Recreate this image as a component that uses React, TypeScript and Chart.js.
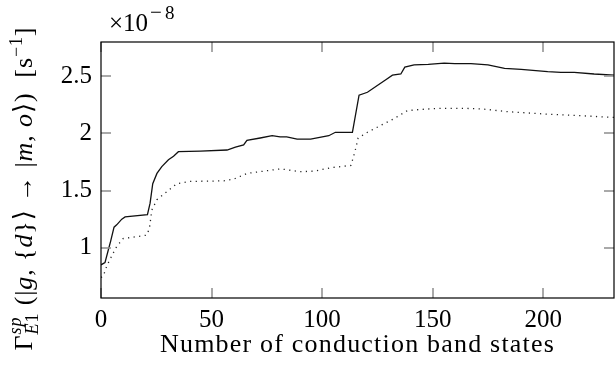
import React, { useEffect, useRef } from "react";
import { Chart, registerables } from "chart.js";

Chart.register(...registerables);

// ---- data ----
const solidX = [0, 1.8, 3.3, 4.4, 5.9, 7.1, 9.4, 10.9, 21, 22.2, 23.4, 25.3, 27.5, 30.5, 32.8, 35, 45, 57, 60.8, 64.5, 66, 72, 77.4, 81, 84, 88.7, 94.8, 103, 106, 113.7, 116.7, 120.5, 124.3, 128.8, 131.8, 135.6, 137.4, 141.6, 148, 155.2, 160, 167.3, 175, 182.5, 190, 202, 208, 214, 223, 232];
const solidY = [0.85, 0.87, 0.98, 1.06, 1.18, 1.2, 1.25, 1.27, 1.29, 1.39, 1.56, 1.65, 1.71, 1.77, 1.8, 1.84, 1.845, 1.855, 1.88, 1.9, 1.94, 1.96, 1.98, 1.97, 1.97, 1.95, 1.95, 1.98, 2.01, 2.01, 2.335, 2.36, 2.41, 2.47, 2.51, 2.52, 2.58, 2.6, 2.605, 2.615, 2.61, 2.61, 2.6, 2.57, 2.56, 2.54, 2.535, 2.535, 2.52, 2.51];
const dottedX = [0, 1, 2.6, 4.9, 7.1, 10, 13.9, 20.7, 21.9, 23, 25.3, 29.8, 34.3, 40.4, 55.5, 60, 66, 73.6, 81.2, 90.2, 96.3, 103.9, 113, 114.7, 116.3, 120.5, 126.5, 132.6, 138.6, 144.7, 153.7, 163, 172, 184, 200.6, 217, 232];
const dottedY = [0.74, 0.75, 0.84, 0.93, 1.01, 1.08, 1.09, 1.11, 1.17, 1.33, 1.42, 1.49, 1.56, 1.58, 1.585, 1.6, 1.65, 1.67, 1.69, 1.665, 1.67, 1.7, 1.72, 1.83, 1.96, 2.01, 2.07, 2.13, 2.2, 2.21, 2.22, 2.22, 2.215, 2.19, 2.17, 2.155, 2.14];

const xTicks = [0, 50, 100, 150, 200];
const yTicks = [1, 1.5, 2, 2.5];
const yTickLabels = ["1", "1.5", "2", "2.5"];
const xTitle = "Number of conduction band states";

const FONT = "'Liberation Serif', 'DejaVu Serif', serif";

type Seg = { t: string; size: number; italic?: boolean; dy?: number; stack?: { sup: Seg[]; sub: Seg[] } };

function segWidth(ctx: CanvasRenderingContext2D, segs: Seg[]): number {
  let w = 0;
  for (const s of segs) {
    if (s.stack) {
      w += Math.max(segWidth(ctx, s.stack.sup), segWidth(ctx, s.stack.sub));
    } else {
      ctx.font = `${s.italic ? "italic " : ""}${s.size}px ${FONT}`;
      w += ctx.measureText(s.t).width;
    }
  }
  return w;
}

function drawSegs(ctx: CanvasRenderingContext2D, segs: Seg[], x: number, y: number): number {
  for (const s of segs) {
    if (s.stack) {
      const w1 = drawSegs(ctx, s.stack.sup, x, y);
      const w2 = drawSegs(ctx, s.stack.sub, x, y);
      x = Math.max(w1, w2);
    } else {
      ctx.font = `${s.italic ? "italic " : ""}${s.size}px ${FONT}`;
      ctx.fillText(s.t, x, y + (s.dy || 0));
      x += ctx.measureText(s.t).width;
    }
  }
  return x;
}

const B = 26;
const S = 18;
const yTitleSegs: Seg[] = [
  { t: "Γ", size: B },
  {
    t: "",
    size: S,
    stack: {
      sup: [{ t: "sp", size: S, italic: true, dy: -11 }],
      sub: [
        { t: "E", size: S, italic: true, dy: 6 },
        { t: "1", size: S, dy: 6 },
      ],
    },
  },
  { t: " (|", size: B },
  { t: "g", size: B, italic: true },
  { t: ", {", size: B },
  { t: "d", size: B, italic: true },
  { t: "}⟩ → |", size: B },
  { t: "m", size: B, italic: true },
  { t: ", ", size: B },
  { t: "o", size: B, italic: true },
  { t: "⟩)  [s", size: B },
  { t: "−1", size: S, dy: -10 },
  { t: "]", size: B },
];

const framePlugin = {
  id: "framePlugin",
  afterDraw(chart: any) {
    const ctx: CanvasRenderingContext2D = chart.ctx;
    const { left, right, top, bottom } = chart.chartArea;
    const xs = chart.scales.x;
    const ys = chart.scales.y;
    ctx.save();
    ctx.setLineDash([]);
    ctx.globalAlpha = 1;
    // inward ticks (mirrored), drawn as thin filled rects
    ctx.fillStyle = "#959595";
    const TL = 10;
    for (const v of xTicks) {
      const px = Math.round(xs.getPixelForValue(v));
      ctx.fillRect(px - 0.8, bottom - TL, 1.6, TL);
      ctx.fillRect(px - 0.8, top, 1.6, TL);
    }
    for (const v of yTicks) {
      const py = Math.round(ys.getPixelForValue(v));
      ctx.fillRect(left, py - 0.8, TL, 1.6);
      ctx.fillRect(right - TL, py - 0.8, TL, 1.6);
    }
    // frame
    ctx.strokeStyle = "#000";
    ctx.lineWidth = 1.2;
    ctx.strokeRect(left, top, right - left, bottom - top);

    ctx.fillStyle = "#000";
    ctx.textAlign = "left";
    ctx.textBaseline = "alphabetic";
    // multiplier
    ctx.font = `25px ${FONT}`;
    ctx.fillText("×10", 109, 31);
    const w = ctx.measureText("×10").width;
    ctx.font = `21px ${FONT}`;
    ctx.fillText("−", 109 + w + 2, 19);
    const wm = ctx.measureText("−").width;
    ctx.font = `19px ${FONT}`;
    ctx.fillText("8", 109 + w + 2 + wm + 3, 19);

    // x title
    ctx.font = `26px ${FONT}`;
    (ctx as any).letterSpacing = "1.2px";
    ctx.textAlign = "center";
    ctx.fillText(xTitle, (left + right) / 2, 352);
    (ctx as any).letterSpacing = "0.9px";

    // y title (rotated)
    ctx.textAlign = "left";
    const tw = segWidth(ctx, yTitleSegs) + 27;
    ctx.translate(32, 175);
    ctx.rotate(-Math.PI / 2);
    drawSegs(ctx, yTitleSegs, -tw / 2, 0);
    (ctx as any).letterSpacing = "0px";
    ctx.restore();
  },
};

export default function App() {
  const ref = useRef<HTMLCanvasElement | null>(null);
  useEffect(() => {
    if (!ref.current) return;
    const chart = new Chart(ref.current, {
      type: "line",
      data: {
        datasets: [
          {
            data: solidX.map((x, i) => ({ x, y: solidY[i] })),
            borderColor: "#111",
            borderWidth: 1.3,
            pointRadius: 0,
            tension: 0,
            fill: false,
          },
          {
            data: dottedX.map((x, i) => ({ x, y: dottedY[i] })),
            borderColor: "#222",
            borderWidth: 1.3,
            borderDash: [1.2, 4.4],
            pointRadius: 0,
            tension: 0,
            fill: false,
          },
        ],
      },
      options: {
        animation: false,
        responsive: false,
        events: [],
        layout: { padding: { left: 0, top: 42, right: 2, bottom: 0 } },
        plugins: { legend: { display: false }, tooltip: { enabled: false } },
        scales: {
          x: {
            type: "linear",
            min: 0,
            max: 232,
            grid: { display: false, drawTicks: false },
            border: { display: false },
            afterBuildTicks: (s: any) => {
              s.ticks = xTicks.map((v) => ({ value: v }));
            },
            afterFit: (s: any) => {
              s.height = 69;
            },
            ticks: {
              color: "#000",
              font: { family: FONT, size: 25 },
              padding: 7,
              maxRotation: 0,
              autoSkip: false,
              callback: (v: any) => String(v),
            },
          },
          y: {
            type: "linear",
            min: 0.56,
            max: 2.8,
            grid: { display: false, drawTicks: false },
            border: { display: false },
            afterBuildTicks: (s: any) => {
              s.ticks = yTicks.map((v) => ({ value: v }));
            },
            afterFit: (s: any) => {
              s.width = 101;
            },
            ticks: {
              color: "#000",
              font: { family: FONT, size: 25 },
              padding: 9,
              autoSkip: false,
              callback: (v: any) => {
                const i = yTicks.indexOf(Number(v));
                return i >= 0 ? yTickLabels[i] : "";
              },
            },
          },
        },
      },
      plugins: [framePlugin],
    });
    return () => chart.destroy();
  }, []);
  return (
    <div style={{ position: "fixed", left: 0, top: 0, width: 616, height: 367, background: "#fff" }}>
      <canvas ref={ref} width={616} height={367} style={{ display: "block" }} />
    </div>
  );
}
